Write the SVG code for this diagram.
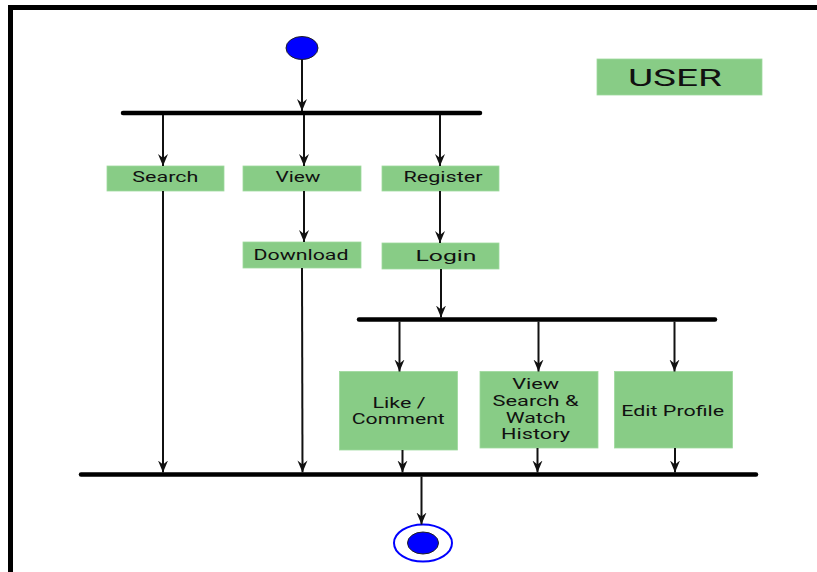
<svg xmlns="http://www.w3.org/2000/svg" width="817" height="572" viewBox="0 0 817 572">
<style>
.box{fill:#88CC86;stroke:#9fd99d;stroke-width:0.8}
.t{font-family:Roboto,"Liberation Sans",sans-serif;font-size:15px;fill:#111;text-anchor:middle}
.m{font-size:14px}
.bar{stroke:#000;stroke-width:4.5;stroke-linecap:round}
.c{stroke:#111;stroke-width:2;fill:none;marker-end:url(#ah)}
</style>
<defs>
<marker id="ah" markerUnits="userSpaceOnUse" viewBox="0 0 12 12" markerWidth="12" markerHeight="12" refX="12" refY="6" orient="auto">
<path d="M0,1 L12,6 L0,11 L4,6 z" fill="#111"/>
</marker>
</defs>
<rect width="817" height="572" fill="#fff"/>
<path d="M10.5,572 V7.5 H817" fill="none" stroke="#000" stroke-width="5"/>

<g id="user-label">
<rect class="box" x="597" y="59" width="165" height="36"/>
<text class="t" x="675" y="86" style="font-size:24px" textLength="94" lengthAdjust="spacingAndGlyphs">USER</text>
</g>

<g id="start">
<ellipse cx="302" cy="48" rx="16" ry="11.5" fill="#0000FF" stroke="#222" stroke-width="1"/>
</g>

<g id="fork1"><line class="bar" x1="123" y1="113" x2="480" y2="113"/></g>
<g id="fork2"><line class="bar" x1="359" y1="319.5" x2="715" y2="319.5"/></g>
<g id="join"><line class="bar" x1="81" y1="474.5" x2="756" y2="474.5"/></g>

<g id="search">
<rect class="box" x="107" y="166" width="117" height="25"/>
<text class="t" x="165.3" y="182" textLength="66" lengthAdjust="spacingAndGlyphs">Search</text>
</g>
<g id="view">
<rect class="box" x="243" y="166" width="118" height="25"/>
<text class="t" x="298" y="182" textLength="45" lengthAdjust="spacingAndGlyphs">View</text>
</g>
<g id="register">
<rect class="box" x="382" y="166" width="117" height="25"/>
<text class="t" x="443" y="182" textLength="79" lengthAdjust="spacingAndGlyphs">Register</text>
</g>
<g id="download">
<rect class="box" x="243" y="242" width="118" height="26"/>
<text class="t" x="301" y="259.5" textLength="95" lengthAdjust="spacingAndGlyphs">Download</text>
</g>
<g id="login">
<rect class="box" x="382" y="243" width="117" height="26"/>
<text class="t" x="446" y="260.5" textLength="61" lengthAdjust="spacingAndGlyphs">Login</text>
</g>
<g id="like-comment">
<rect class="box" x="339.5" y="371.5" width="118" height="78.5"/>
<text class="t m" x="399" y="407.5" textLength="53" lengthAdjust="spacingAndGlyphs">Like /</text>
<text class="t m" x="398.3" y="423.5" textLength="93" lengthAdjust="spacingAndGlyphs">Comment</text>
</g>
<g id="history">
<rect class="box" x="480" y="371.5" width="118" height="76.5"/>
<text class="t m" x="535.7" y="389" textLength="47" lengthAdjust="spacingAndGlyphs">View</text>
<text class="t m" x="535.5" y="405.5" textLength="86" lengthAdjust="spacingAndGlyphs">Search &amp;</text>
<text class="t m" x="535.7" y="422.5" textLength="60" lengthAdjust="spacingAndGlyphs">Watch</text>
<text class="t m" x="535.5" y="439.3" textLength="69" lengthAdjust="spacingAndGlyphs">History</text>
</g>
<g id="edit-profile">
<rect class="box" x="614.5" y="371.5" width="118" height="76.5"/>
<text class="t" x="672.7" y="415.7" textLength="103" lengthAdjust="spacingAndGlyphs">Edit Profile</text>
</g>

<g id="end">
<ellipse cx="423" cy="543" rx="29" ry="18.5" fill="#fff" stroke="#0000FF" stroke-width="2"/>
<ellipse cx="423" cy="543" rx="15.5" ry="11" fill="#0000FF" stroke="#222" stroke-width="1"/>
</g>

<g id="connectors">
<line class="c" x1="302" y1="59.5" x2="302" y2="111"/>
<line class="c" x1="163" y1="115" x2="163" y2="166"/>
<line class="c" x1="304" y1="115" x2="304" y2="166"/>
<line class="c" x1="440" y1="115" x2="440" y2="166"/>
<line class="c" x1="304" y1="191" x2="304" y2="242"/>
<line class="c" x1="440" y1="191" x2="440" y2="243"/>
<line class="c" x1="441" y1="269" x2="441" y2="317.5"/>
<line class="c" x1="399.5" y1="321.5" x2="399.5" y2="371.5"/>
<line class="c" x1="538.5" y1="321.5" x2="538.5" y2="371.5"/>
<line class="c" x1="674.5" y1="321.5" x2="674.5" y2="371.5"/>
<line class="c" x1="163" y1="191" x2="163" y2="472.5"/>
<line class="c" x1="302" y1="268" x2="302.5" y2="472.5"/>
<line class="c" x1="402.5" y1="450" x2="402.5" y2="472.5"/>
<line class="c" x1="537.5" y1="448" x2="537.5" y2="472.5"/>
<line class="c" x1="675" y1="448" x2="675" y2="472.5"/>
<line class="c" x1="421.5" y1="476.5" x2="421.5" y2="524.5"/>
</g>
</svg>
